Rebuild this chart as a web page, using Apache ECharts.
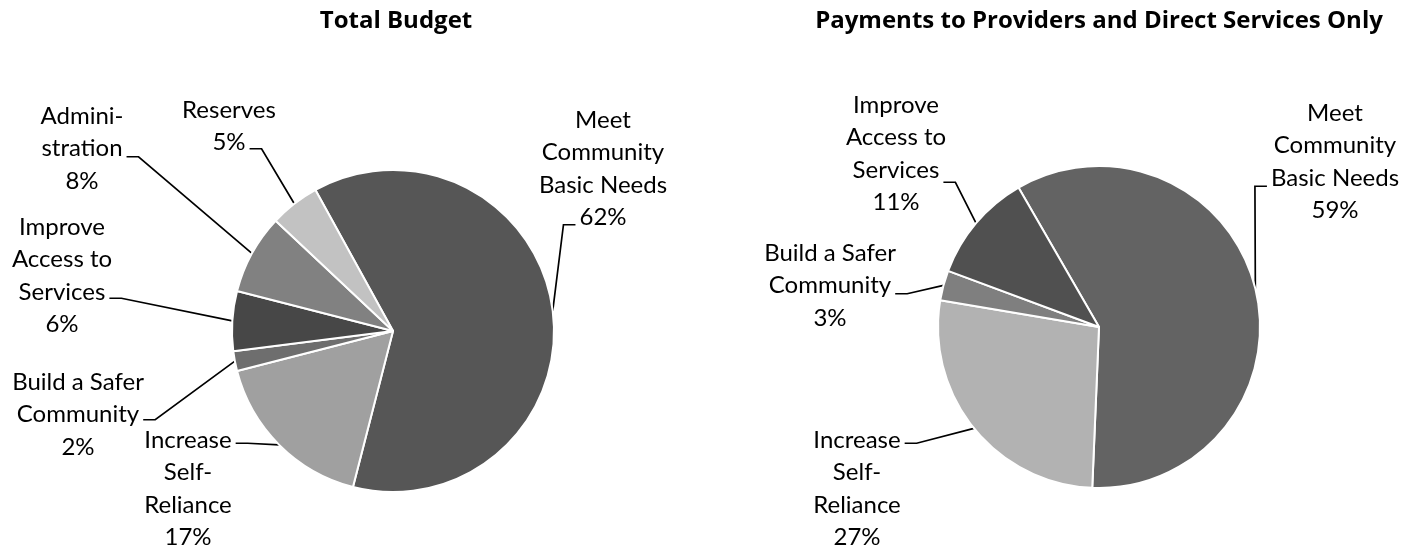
<!DOCTYPE html>
<html><head><meta charset="utf-8">
<script src="https://cdn.jsdelivr.net/npm/echarts@6/dist/echarts.min.js"></script>
<style>html,body{margin:0;padding:0;background:#fff}#c{width:1417px;height:552px}</style>
</head><body><div id="c"></div>
<script>
// ---- data ----
const titles = ['Total Budget', 'Payments to Providers and Direct Services Only'];
const totalCategories = ['Meet\nCommunity\nBasic Needs', 'Increase\nSelf-\nReliance', 'Build a Safer\nCommunity', 'Improve\nAccess to\nServices', 'Admini-\nstration', 'Reserves'];
const totalValues = [62, 17, 2, 6, 8, 5];
const totalColors = ['#565656', '#a0a0a0', '#6e6e6e', '#474747', '#818181', '#c2c2c2'];
const directCategories = ['Meet\nCommunity\nBasic Needs', 'Increase\nSelf-\nReliance', 'Build a Safer\nCommunity', 'Improve\nAccess to\nServices'];
const directValues = [59, 27, 3, 11];
const directColors = ['#636363', '#b2b2b2', '#7f7f7f', '#505050'];

// ---- layout / style ----
const FONT = 'Lato';
const TITLE_FONT = 'Open Sans';
const FS = 24;
const LH = 32.5;
const labelPlacement = [
  [ {cx:603, top:104, line:3, side:'left',  dy:7},
    {cx:188, top:424, line:0, side:'right', dy:3},
    {cx:78,  top:366, line:1, side:'right', dy:5},
    {cx:62,  top:211, line:2, side:'right', dy:6},
    {cx:82,  top:100, line:1, side:'right', dy:8},
    {cx:229, top:94,  line:1, side:'right', dy:6} ],
  [ {cx:1335, top:97,  line:2, side:'left',  dy:8},
    {cx:857,  top:424, line:0, side:'right', dy:3},
    {cx:830,  top:237, line:1, side:'right', dy:8},
    {cx:896,  top:89,  line:2, side:'right', dy:12} ]
];

const mctx = document.createElement('canvas').getContext('2d');
mctx.font = FS + 'px ' + FONT;
function measure(t) { return mctx.measureText(t).width; }

function makeData(cats, vals, cols) {
  return cats.map((c, i) => ({ name: c, value: vals[i], itemStyle: { color: cols[i] } }));
}
function pctFormatter(vals) {
  const sum = vals.reduce((a, b) => a + b, 0);
  return p => p.name + '\n' + Math.round(p.value / sum * 100) + '%';
}
function layoutFn(params) {
  const pl = labelPlacement[params.seriesIndex][params.dataIndex];
  const lines = (params.text || '').split('\n');
  const w = measure(lines[pl.line] || '');
  const ly = pl.top + LH * (pl.line + 0.5) + pl.dy;
  const ex = pl.side === 'right' ? pl.cx + w / 2 + 4 : pl.cx - w / 2 - 4;
  const bx = pl.side === 'right' ? ex + 12 : ex - 12;
  const res = { x: pl.cx, y: pl.top, align: 'center', verticalAlign: 'top' };
  if (params.labelLinePoints && params.labelLinePoints[0]) {
    res.labelLinePoints = [params.labelLinePoints[0], [bx, ly], [ex, ly]];
  }
  return res;
}

function pieSeries(cats, vals, cols, center, startAngle) {
  return {
    type: 'pie',
    center: center,
    radius: 161,
    startAngle: startAngle,
    clockwise: true,
    avoidLabelOverlap: false,
    animation: false,
    emphasis: { disabled: true },
    itemStyle: { borderColor: '#ffffff', borderWidth: 2 },
    label: {
      show: true, position: 'outside', formatter: pctFormatter(vals),
      fontFamily: FONT, fontSize: FS, lineHeight: LH, color: '#000', align: 'center'
    },
    labelLine: { show: true, length: 10, length2: 10, lineStyle: { color: '#000', width: 1.7 } },
    labelLayout: layoutFn,
    data: makeData(cats, vals, cols)
  };
}

const chart = echarts.init(document.getElementById('c'), null, { renderer: 'canvas' });
chart.setOption({
  backgroundColor: '#ffffff',
  animation: false,
  title: [
    { text: titles[0], left: 391, top: 4, textAlign: 'center',
      textStyle: { fontFamily: TITLE_FONT, fontSize: 24, fontWeight: 'bold', color: '#000' } },
    { text: titles[1], left: 1094, top: 4, textAlign: 'center',
      textStyle: { fontFamily: TITLE_FONT, fontSize: 24, fontWeight: 'bold', color: '#000' } }
  ],
  series: [
    pieSeries(totalCategories, totalValues, totalColors, [393, 331], 118.8),
    pieSeries(directCategories, directValues, directColors, [1099, 327], 120)
  ]
});
</script>
</body></html>
